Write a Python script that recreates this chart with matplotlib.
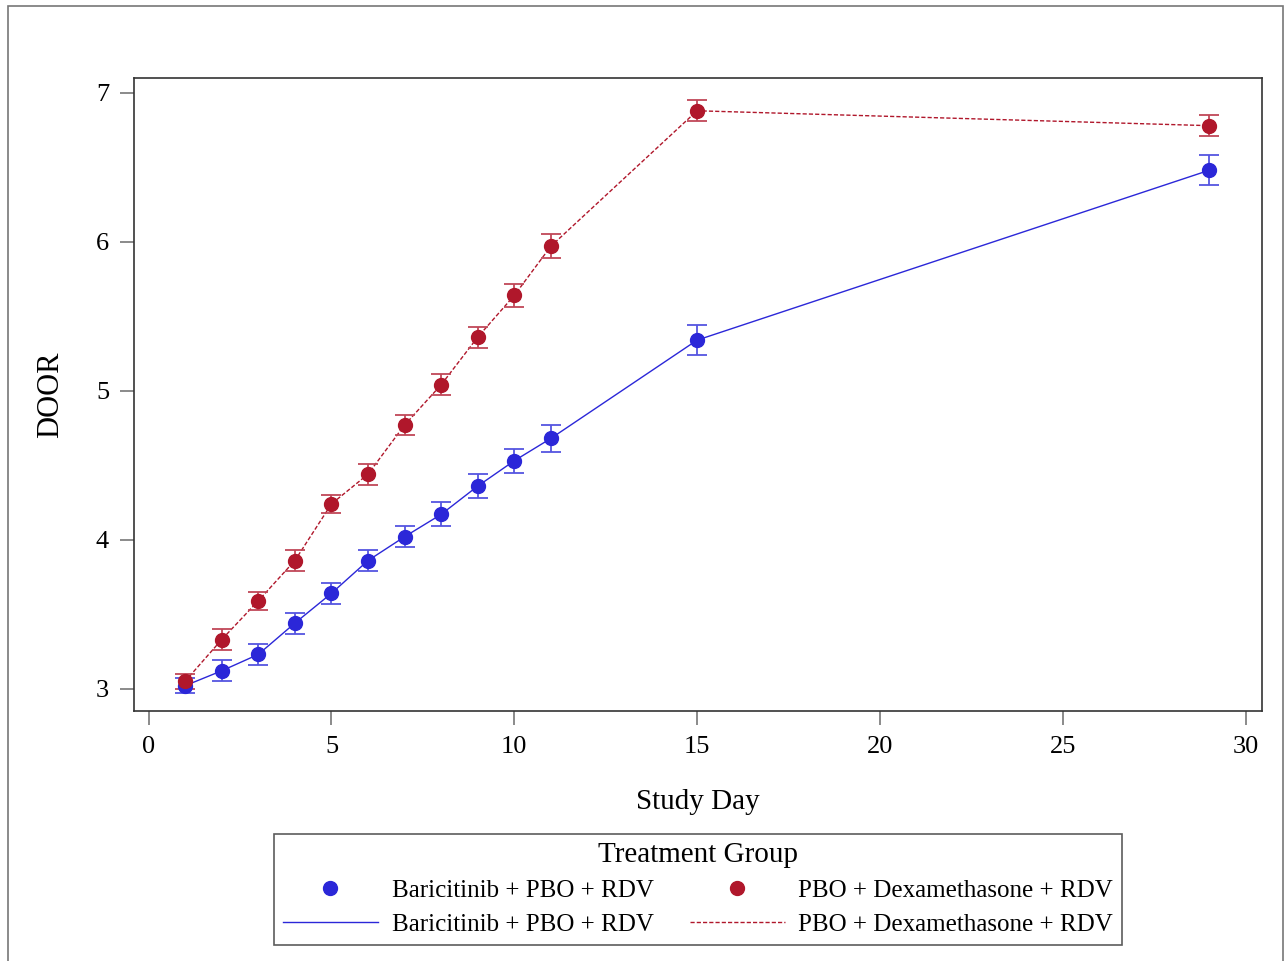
import matplotlib.pyplot as plt
from matplotlib.lines import Line2D
from matplotlib.patches import Rectangle

plt.rcParams['font.family'] = ['Liberation Serif', 'DejaVu Serif']

days = [1, 2, 3, 4, 5, 6, 7, 8, 9, 10, 11, 15, 29]
bari = [3.02, 3.12, 3.23, 3.44, 3.64, 3.86, 4.02, 4.17, 4.36, 4.53, 4.68, 5.34, 6.48]
bari_err = [0.05, 0.07, 0.07, 0.07, 0.07, 0.07, 0.07, 0.08, 0.08, 0.08, 0.09, 0.10, 0.10]
dexa = [3.05, 3.33, 3.59, 3.86, 4.24, 4.44, 4.77, 5.04, 5.36, 5.64, 5.97, 6.88, 6.78]
dexa_err = [0.05, 0.07, 0.06, 0.07, 0.06, 0.07, 0.07, 0.07, 0.07, 0.08, 0.08, 0.07, 0.07]
group_names = ["Baricitinib + PBO + RDV", "PBO + Dexamethasone + RDV"]

blue = '#2B27D8'
red = '#B0172B'

fig = plt.figure(figsize=(12.85, 9.61), dpi=100)
ax = fig.add_axes([134/1285, 1 - 711/961, (1262-134)/1285, (711-78)/961])

# outer frame
fig.patches.append(Rectangle((8/1285, -0.01), (1283-8)/1285, 1 - 6/961 + 0.01,
                             transform=fig.transFigure, fill=False,
                             edgecolor='#777777', linewidth=1.2))

ax.plot(days, bari, color=blue, linewidth=1, zorder=2)
ax.plot(days, dexa, color=red, linewidth=1, linestyle=(0, (3, 1.5)), zorder=2)
ax.errorbar(days, bari, yerr=bari_err, fmt='o', color=blue, markersize=10,
            elinewidth=1.3, capsize=7, capthick=1.3, ecolor='#5555E0', zorder=3)
ax.errorbar(days, dexa, yerr=dexa_err, fmt='o', color=red, markersize=10,
            elinewidth=1.3, capsize=7, capthick=1.3, ecolor='#C04858', zorder=3)

ax.set_xlim(-0.4, 30.45)
ax.set_ylim(2.85, 7.1)
ax.set_xticks([0, 5, 10, 15, 20, 25, 30])
ax.set_yticks([3, 4, 5, 6, 7])
ax.tick_params(length=10, width=1.2, color='#777777', labelsize=19, pad=8)
for s in ax.spines.values():
    s.set_color('#333333')
    s.set_linewidth(1.2)
ax.set_xlabel("Study Day", fontsize=21, labelpad=22)
ax.set_ylabel("DOOR", fontsize=22, labelpad=22)

handles = [
    Line2D([], [], linestyle='none', marker='o', color=blue, markersize=10),
    Line2D([], [], color=blue, linewidth=1),
    Line2D([], [], linestyle='none', marker='o', color=red, markersize=10),
    Line2D([], [], color=red, linewidth=1, linestyle=(0, (3, 1.5))),
]
labels = [group_names[0], group_names[0], group_names[1], group_names[1]]
leg = fig.legend(handles, labels, ncol=2, title="Treatment Group",
                 loc='center', bbox_to_anchor=(698/1285, 1 - 889/961),
                 fontsize=18, title_fontsize=21, frameon=True, fancybox=False,
                 edgecolor='#333333', handlelength=3.8, handletextpad=0.55,
                 columnspacing=1.45, labelspacing=0.45, borderpad=0.35)
leg.get_frame().set_linewidth(1.2)

fig.savefig("out.png", dpi=100)
